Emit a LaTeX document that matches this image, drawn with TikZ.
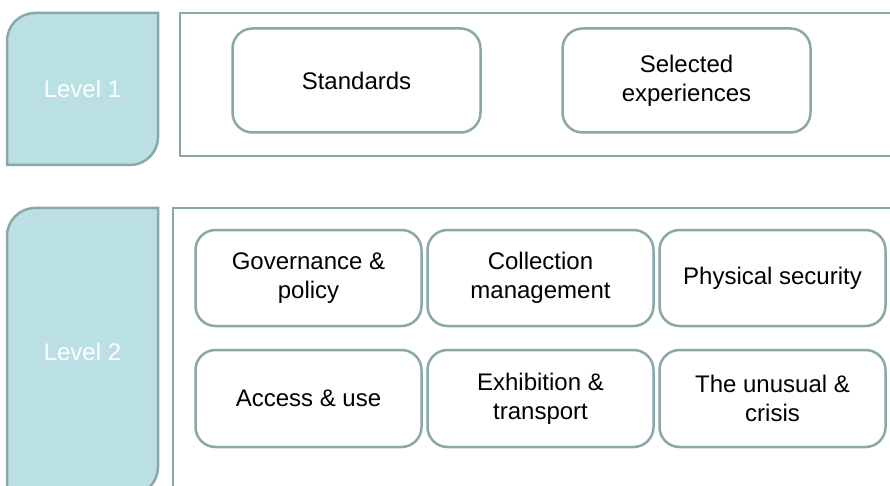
\documentclass[tikz,border=0pt]{standalone}
\usepackage{fontspec}
\setmainfont{Liberation Sans}
\definecolor{tabfill}{HTML}{BAE0E3}
\definecolor{tabline}{HTML}{8AA7AA}
\tikzset{
  topic/.style={draw=tabline, line width=2.5pt, rounded corners=20pt, fill=white,
    align=center, inner sep=0pt, font=\fontsize{24}{29}\selectfont},
  tab/.style={draw=tabline, fill=tabfill, line width=2.5pt},
  frame/.style={draw=tabline, line width=2.5pt},
  tablabel/.style={text=white, font=\fontsize{24}{29}\selectfont}
}
\begin{document}
\begin{tikzpicture}[x=1pt,y=-1pt]
  \useasboundingbox (0,0) rectangle (890,486);
  \begin{scope}
  \clip (0,0) rectangle (890,486);

  % level 1
  \path[tab] (7,165) -- (7,41) arc[start angle=180, end angle=270, radius=28]
    -- (158,13) -- (158,137) arc[start angle=0, end angle=90, radius=28] -- cycle;
  \node[tablabel] (lvlone) at (82.5,89) {Level 1};
  \draw[frame] (900,13) -- (180,13) -- (180,156) -- (900,156);

  \node[topic, minimum width=248pt, minimum height=104pt] (std) at (356.5,80.5) {Standards};
  \node[topic, minimum width=248pt, minimum height=104pt] (selexp) at (686.5,80.5) {Selected\\experiences};

  % level 2
  \path[tab] (7,495) -- (7,236) arc[start angle=180, end angle=270, radius=28]
    -- (158,208) -- (158,467) arc[start angle=0, end angle=90, radius=28] -- cycle;
  \node[tablabel] (lvltwo) at (82.5,352) {Level 2};
  \draw[frame] (900,208) -- (173,208) -- (173,500);

  \node[topic, minimum width=226pt, minimum height=96pt] (gov) at (308.5,278) {Governance \&\\policy};
  \node[topic, minimum width=226pt, minimum height=96pt] (coll) at (540.5,278) {Collection\\management};
  \node[topic, minimum width=226pt, minimum height=96pt] (phys) at (772.5,278) {Physical security};
  \node[topic, minimum width=226pt, minimum height=97pt] (access) at (308.5,398.5) {Access \& use};
  \node[topic, minimum width=226pt, minimum height=97pt] (exhib) at (540.5,398.5) {Exhibition \&\\transport};
  \node[topic, minimum width=226pt, minimum height=97pt] (crisis) at (772.5,398.5) {The unusual \&\\crisis};
  \end{scope}
\end{tikzpicture}
\end{document}
